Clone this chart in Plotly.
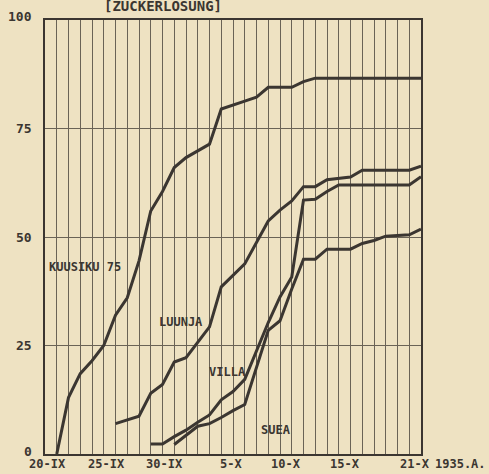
import plotly.graph_objects as go

# Days counted from 20-IX (1935)
kuusiku_days = [0, 1, 2, 3, 4, 5, 6, 7, 8, 9, 10, 11, 13, 14, 16, 17, 18, 20, 21, 22, 31]
kuusiku_vals = [0, 13, 18.5, 21.5, 25, 32, 36, 44.5, 56, 60.5, 66, 68.3, 71.4, 79.5, 81.3, 82.2, 84.5, 84.5, 85.8, 86.6, 86.6]

luunja_days = [5, 7, 8, 9, 10, 11, 13, 14, 16, 18, 19, 20, 21, 22, 23, 25, 26, 30, 31]
luunja_vals = [7, 8.7, 14, 16, 21.2, 22.2, 29.3, 38.5, 43.8, 53.7, 56.2, 58.3, 61.6, 61.6, 63.2, 63.8, 65.4, 65.4, 66.3]

villa_days = [8, 9, 10, 11, 12, 13, 14, 15, 16, 18, 19, 20, 21, 22, 23, 24, 30, 31]
villa_vals = [2.3, 2.3, 4, 5.5, 7.3, 9, 12.5, 14.4, 17.2, 30.3, 36.2, 40.8, 58.5, 58.7, 60.5, 62, 62, 63.9]

suea_days = [10, 11, 12, 13, 14, 15, 16, 18, 19, 20, 21, 22, 23, 25, 26, 27, 28, 30, 31]
suea_vals = [2.2, 4.4, 6.4, 7, 8.4, 10, 11.4, 28.5, 30.7, 38, 44.9, 44.9, 47.2, 47.2, 48.5, 49.2, 50.2, 50.5, 51.8]

series_names = ["KUUSIKU 75", "LUUNJA", "VILLA", "SUEA"]

x_tick_days = [0, 5, 10, 15, 20, 25, 31]
x_tick_text = ["20-IX", "25-IX", "30-IX", "5-X", "10-X", "15-X", "21-X"]
y_tick_vals = [100, 75, 50, 25, 0]
y_tick_text = ["100", "75", "50", "25", "0"]

INK = "#3b3631"
GRID = "#6a6356"
PAPER = "#eee2c2"
FONT = "DejaVu Sans Mono, monospace"

fig = go.Figure()
for name, xs, ys in [
    (series_names[0], kuusiku_days, kuusiku_vals),
    (series_names[1], luunja_days, luunja_vals),
    (series_names[2], villa_days, villa_vals),
    (series_names[3], suea_days, suea_vals),
]:
    fig.add_trace(go.Scatter(x=xs, y=ys, mode="lines", name=name,
                             line=dict(color=INK, width=3), hoverinfo="skip"))

annotations = []
# x tick labels
for d, t in zip(x_tick_days, x_tick_text):
    annotations.append(dict(x=d, y=0, xref="x", yref="y", text="<b>" + t + "</b>", showarrow=False,
                            xanchor="right", yanchor="top", xshift=11, yshift=-1,
                            font=dict(family=FONT, size=12, color=INK)))
annotations.append(dict(x=31, y=0, xref="x", yref="y", text="<b>1935.A.</b>", showarrow=False,
                        xanchor="left", yanchor="top", xshift=12, yshift=-1,
                        font=dict(family=FONT, size=12, color=INK)))
# y tick labels
for v, t in zip(y_tick_vals, y_tick_text):
    shift = 4 if v == 100 else (3 if v == 0 else 0)
    annotations.append(dict(x=-1, y=v, xref="x", yref="y", text="<b>" + t + "</b>", showarrow=False,
                            xanchor="right", yanchor="middle", xshift=-11, yshift=shift,
                            font=dict(family=FONT, size=13, color=INK)))
# series labels
label_pos = [(-0.8, 43, "left"), (8.5, 30.5, "left"), (12.8, 19, "left"), (17.2, 5.5, "left")]
for name, (lx, ly, anc) in zip(series_names, label_pos):
    annotations.append(dict(x=lx, y=ly, xref="x", yref="y", text="<b>" + name + "</b>", showarrow=False,
                            xanchor=anc, yanchor="middle",
                            font=dict(family=FONT, size=12, color=INK)))
# title, cut off at the top edge as in the scan
annotations.append(dict(x=9, y=1, xref="x", yref="paper", text="<b>[ZUCKERLÖSUNG]</b>", showarrow=False,
                        xanchor="center", yanchor="bottom", yshift=4,
                        font=dict(family=FONT, size=14, color=INK)))

fig.update_layout(
    width=489, height=474,
    margin=dict(l=45, r=68, t=20, b=20),
    paper_bgcolor=PAPER, plot_bgcolor=PAPER,
    showlegend=False,
    annotations=annotations,
    xaxis=dict(range=[-1, 31], tick0=0, dtick=1, showgrid=True, gridcolor=GRID, gridwidth=1,
               showticklabels=False, ticks="", zeroline=False,
               showline=True, mirror=True, linecolor=INK, linewidth=2),
    yaxis=dict(range=[0, 100], tick0=0, dtick=25, showgrid=True, gridcolor=GRID, gridwidth=1,
               showticklabels=False, ticks="", zeroline=False,
               showline=True, mirror=True, linecolor=INK, linewidth=2),
)

fig.write_html(
    "out.html",
    config={"displayModeBar": False},
    post_script="document.body.style.margin='0';document.body.style.padding='0';"
                "document.body.style.background='" + PAPER + "';"
                "document.documentElement.style.background='" + PAPER + "';",
)
